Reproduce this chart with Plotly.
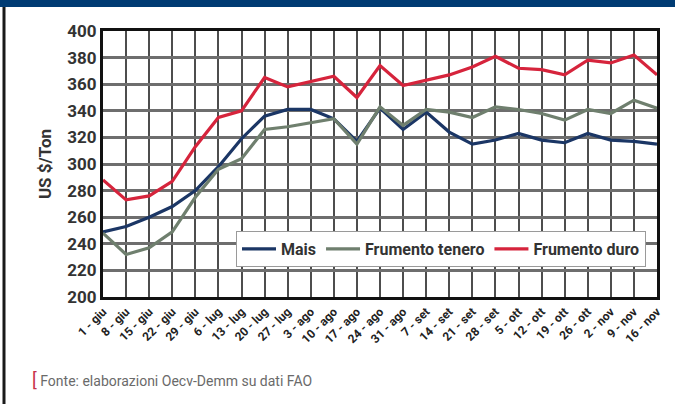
import plotly.graph_objects as go

# Weekly dates (June - November)
weeks = ["1 - giu", "8 - giu", "15 - giu", "22 - giu", "29 - giu", "6 - lug",
         "13 - lug", "20 - lug", "27 - lug", "3 - ago", "10 - ago", "17 - ago",
         "24 - ago", "31 - ago", "7 - set", "14 - set", "21 - set", "28 - set",
         "5 - ott", "12 - ott", "19 - ott", "26 - ott", "2 - nov", "9 - nov",
         "16 - nov"]

# Prices in US $/Ton
mais = [249, 253, 260, 268, 280, 298, 319, 336, 341, 341, 334, 317, 342,
        326, 339, 324, 315, 318, 323, 318, 316, 323, 318, 317, 315]
frumento_tenero = [248, 232, 237, 249, 275, 296, 304, 326, 328, 331, 334,
                   315, 343, 329, 341, 339, 335, 343, 341, 338, 333, 341,
                   338, 348, 342]
frumento_duro = [288, 273, 276, 287, 313, 335, 340, 365, 358, 362, 366, 350,
                 374, 359, 363, 367, 373, 381, 372, 371, 367, 378, 376, 382,
                 367]

y_ticks = [200, 220, 240, 260, 280, 300, 320, 340, 360, 380, 400]

W, H = 675, 404
ML, MR, MT, MB = 103, 18, 31, 107
PW, PH = W - ML - MR, H - MT - MB


def px_to_paper_x(px):
    return (px - ML) / PW


def px_to_paper_y(py):
    return (H - MB - py) / PH


idx = list(range(len(weeks)))
FONT = "Liberation Sans Narrow, Roboto, Arial, sans-serif"

fig = go.Figure()
series = [
    ("Mais", mais, "#1b3665"),
    ("Frumento tenero", frumento_tenero, "#6f7f6e"),
    ("Frumento duro", frumento_duro, "#d6243c"),
]
for name, vals, color in series:
    fig.add_trace(go.Scatter(
        x=idx, y=vals, name=name, mode="lines",
        line=dict(color=color, width=3.2),
    ))

fig.update_layout(
    width=W, height=H,
    margin=dict(l=ML, r=MR, t=MT, b=MB),
    paper_bgcolor="white", plot_bgcolor="white",
    font=dict(family=FONT, color="#333333"),
    showlegend=True,
    legend=dict(
        orientation="h",
        x=px_to_paper_x(236), y=px_to_paper_y(231),
        xanchor="left", yanchor="top",
        bgcolor="white", bordercolor="#9a9a9a", borderwidth=1,
        font=dict(family=FONT, size=16, color="#333333", weight="bold"),
        itemwidth=34, tracegroupgap=0,
    ),
    xaxis=dict(
        range=[0, len(weeks) - 1],
        tickmode="array", tickvals=idx, ticktext=weeks,
        tickangle=-45,
        tickfont=dict(family=FONT, size=12, color="#222222", weight="bold"),
        showgrid=True, gridcolor="#4d4d4d", gridwidth=2,
        showline=True, linecolor="#111111", linewidth=3, mirror=True,
        zeroline=False, ticks="",
    ),
    yaxis=dict(
        range=[200, 400],
        tickmode="array", tickvals=y_ticks,
        ticktext=[str(v) for v in y_ticks],
        tickfont=dict(family=FONT, size=17, color="#333333", weight="bold"),
        showgrid=True, gridcolor="#6e6e6e", gridwidth=3,
        showline=True, linecolor="#111111", linewidth=3, mirror=True,
        zeroline=False, ticks="",
        title=dict(text="US $/Ton", standoff=12,
                   font=dict(family=FONT, size=17, color="#333333",
                             weight="bold")),
    ),
    shapes=[
        # navy band across the top
        dict(type="rect", xref="paper", yref="paper",
             x0=px_to_paper_x(0), x1=px_to_paper_x(W),
             y0=px_to_paper_y(7), y1=px_to_paper_y(0),
             fillcolor="#003b73", line=dict(width=0), layer="above"),
        # dark rule on the left edge
        dict(type="rect", xref="paper", yref="paper",
             x0=px_to_paper_x(2.5), x1=px_to_paper_x(5.5),
             y0=px_to_paper_y(H), y1=px_to_paper_y(7),
             fillcolor="#1a1a1a", line=dict(width=0), layer="above"),
    ],
    annotations=[
        dict(xref="paper", yref="paper",
             x=px_to_paper_x(30), y=px_to_paper_y(379),
             xanchor="left", yanchor="middle", showarrow=False,
             text="<span style='color:#c8324a;font-size:18px'>[</span> "
                  "Fonte: elaborazioni Oecv-Demm su dati FAO",
             font=dict(family=FONT, size=14, color="#6a6a6a")),
    ],
)

fig.write_html("out.html")
